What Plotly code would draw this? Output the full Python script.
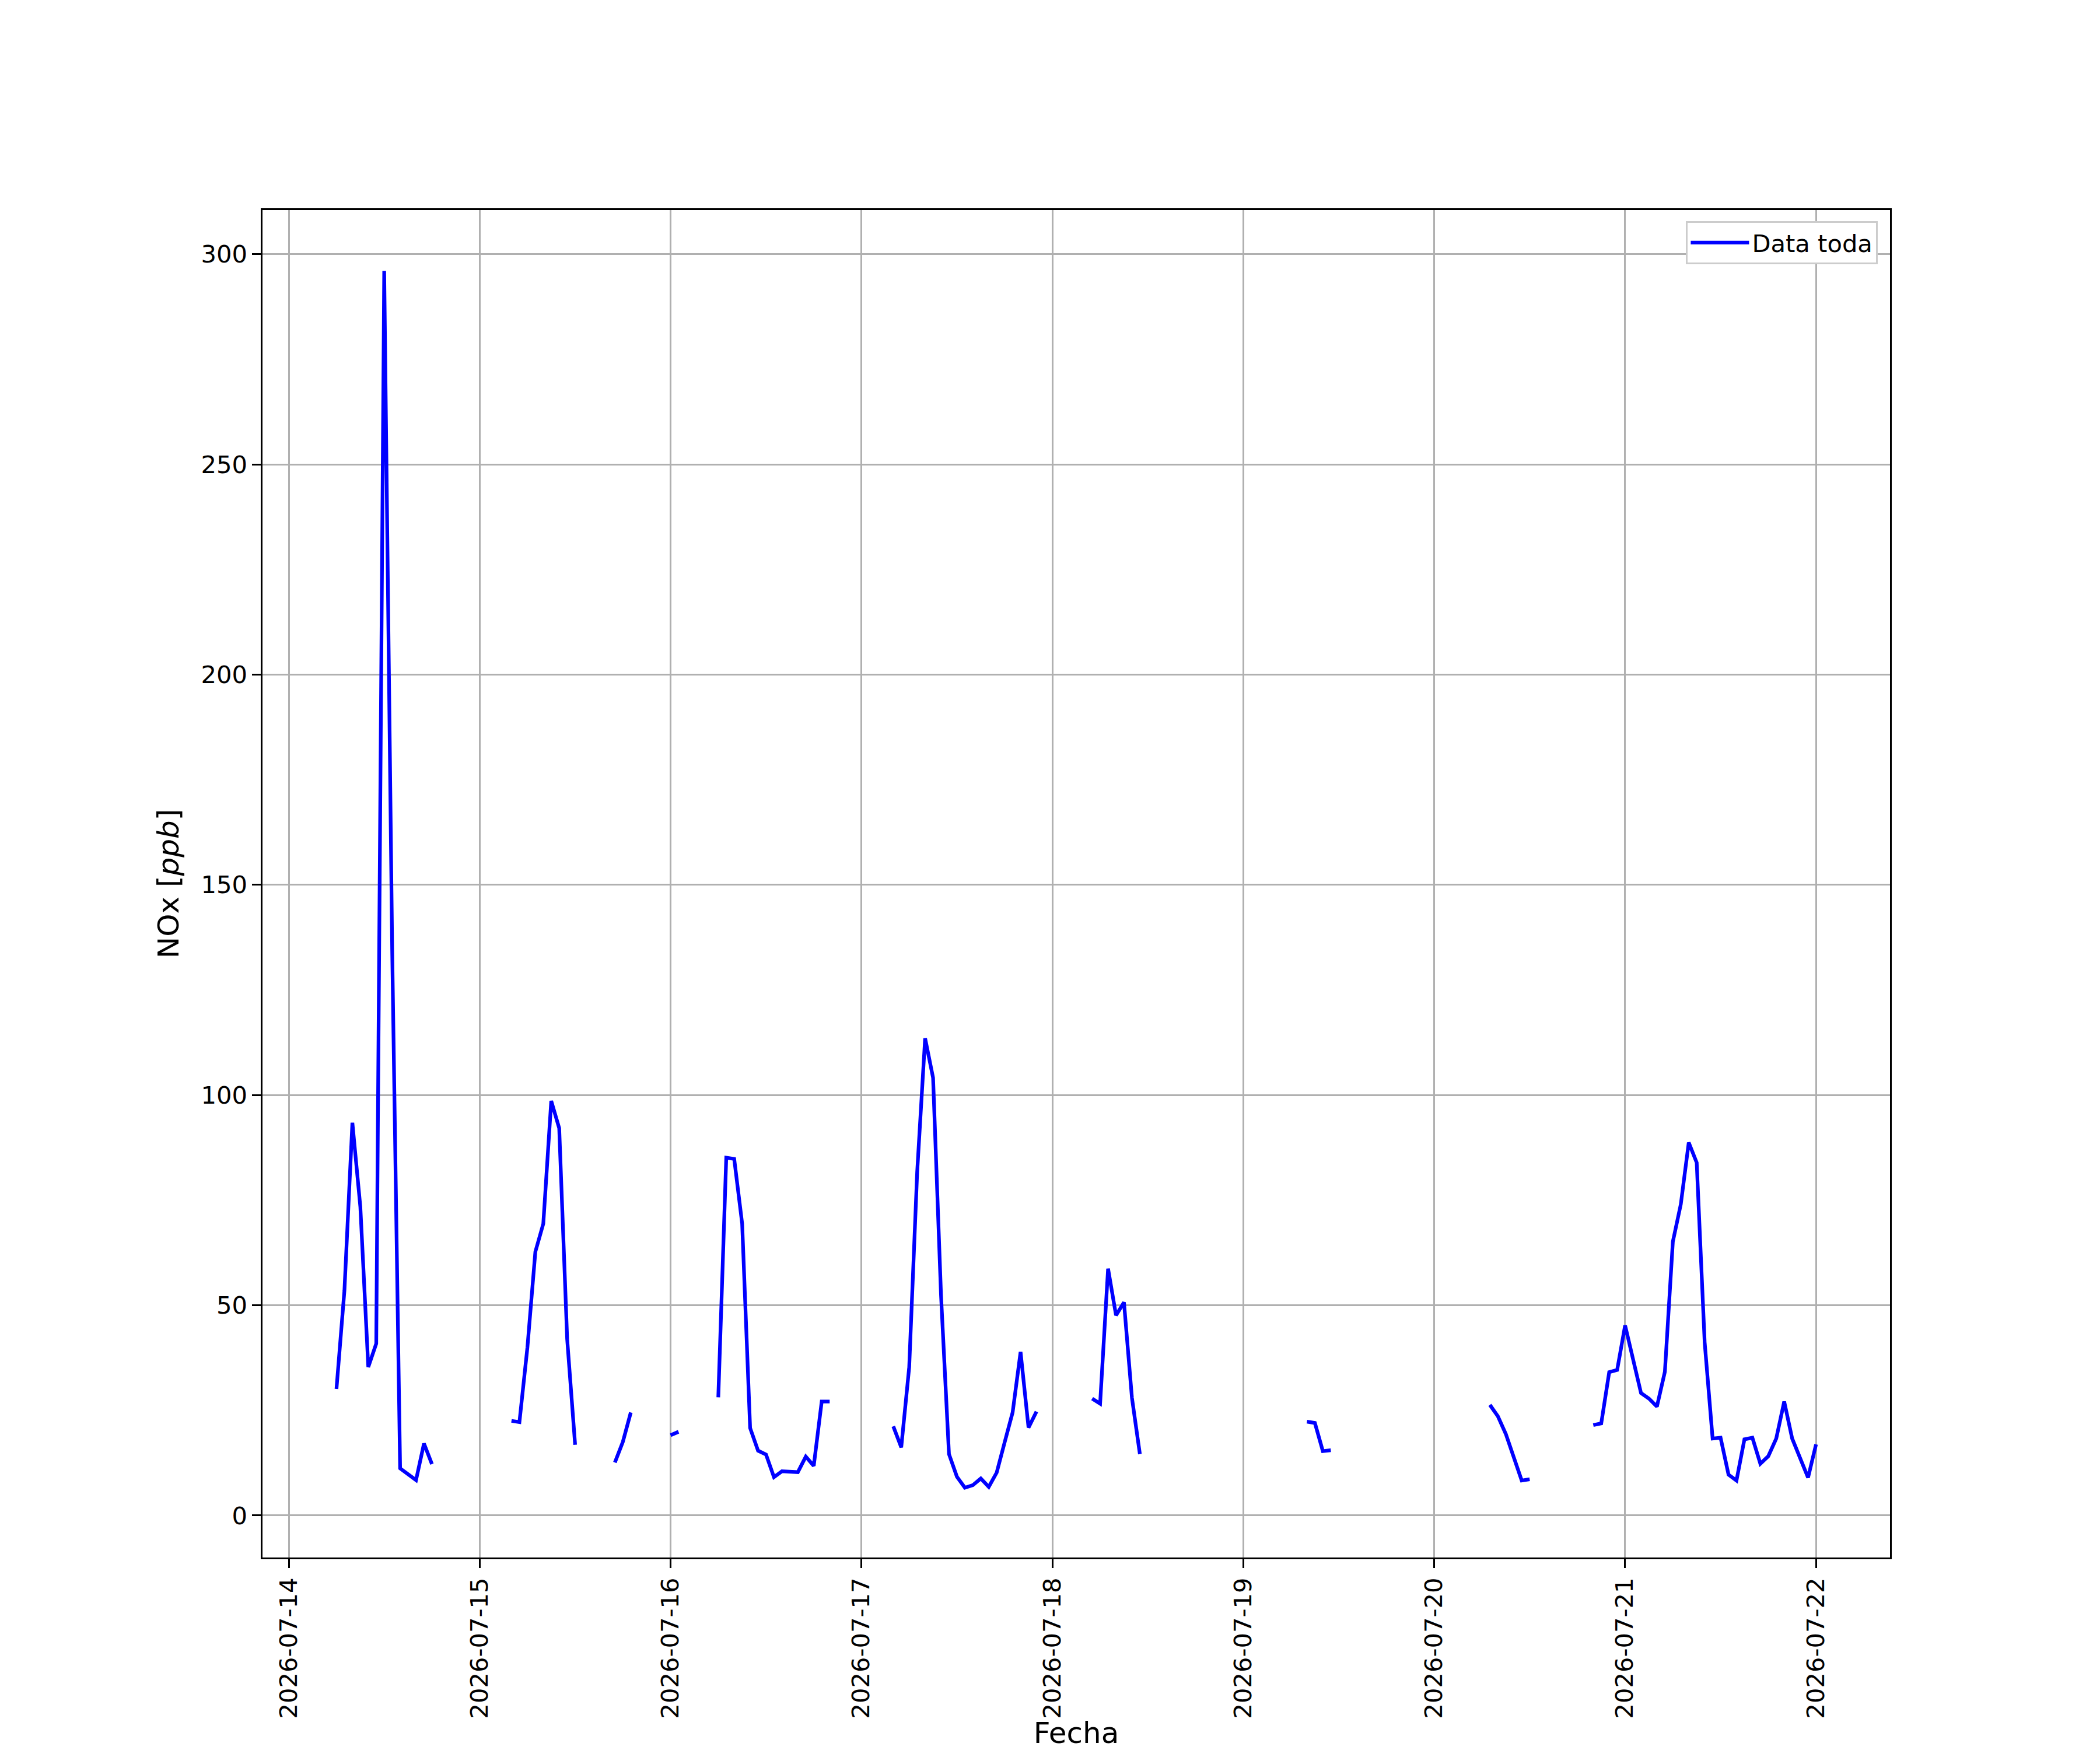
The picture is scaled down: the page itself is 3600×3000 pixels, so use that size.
import pandas as pd
import plotly.graph_objects as go

# Hourly NOx readings (ppb), one list of 24 hours per day; None = no data
nox_0714 = [None, None, None, None, None, None, 30.1, 53.5, 93.4, 73.4, 35.3, 40.9,
            296.0, 135.0, 11.2, 9.8, 8.4, 17.1, 12.2, None, None, None, None, None]
nox_0715 = [None, None, None, None, 22.5, 22.2, 39.9, 62.7, 69.4, 98.6, 92.1, 42.0,
            16.8, None, None, None, None, 12.6, 17.5, 24.5, None, None, None, None]
nox_0716 = [19.1, 19.9, None, None, None, None, 28.1, 85.1, 84.8, 69.4, 20.8, 15.4,
            14.5, 9.1, 10.5, 10.3, 10.3, 14.0, 11.8, 27.1, 27.1, None, None, None]
nox_0717 = [None, None, None, None, 21.2, 16.2, 35.3, 81.6, 113.5, 104.1, 52.4, 14.6,
            9.2, 6.6, 7.2, 8.8, 6.8, 10.2, 17.4, 24.5, 38.9, 20.9, 24.7, None]
nox_0718 = [None, None, None, None, None, 27.8, 26.6, 58.7, 47.6, 50.7, 28.0, 14.6,
            None, None, None, None, None, None, None, None, None, None, None, None]
nox_0719 = [None, None, None, None, None, None, None, None, 22.3, 22.0, 15.3, 15.5,
            None, None, None, None, None, None, None, None, None, None, None, None]
nox_0720 = [None, None, None, None, None, None, None, 26.3, 23.6, 19.4, 14.1, 8.3,
            8.6, None, None, None, None, None, None, None, 21.5, 21.9, 34.1, 34.6]
nox_0721 = [45.2, 37.5, 29.1, 27.8, 25.9, 34.2, 65.1, 74.0, 88.7, 83.9, 41.2, 18.3,
            18.5, 9.7, 8.3, 18.1, 18.5, 12.3, 14.1, 18.3, 27.1, 18.3, 13.7, 9.0]
nox_0722 = [16.9]

nox = nox_0714 + nox_0715 + nox_0716 + nox_0717 + nox_0718 + nox_0719 + nox_0720 + nox_0721 + nox_0722
fechas = pd.date_range("2026-07-14 00:00", periods=len(nox), freq="h")

tick_dias = pd.date_range("2026-07-14", "2026-07-22", freq="D")

PT = 300 / 72  # matplotlib points -> pixels at 300 dpi
FONT = "DejaVu Sans"

fig = go.Figure()
fig.add_trace(go.Scatter(
    x=fechas, y=nox, mode="lines", name="Data toda",
    line=dict(color="#0000ff", width=1.5 * PT),
    connectgaps=False,
))

axis_common = dict(
    showline=True, linecolor="black", linewidth=0.8 * PT, mirror=True,
    ticks="outside", ticklen=3.5 * PT, tickwidth=0.8 * PT, tickcolor="black",
    showgrid=True, gridcolor="#b0b0b0", gridwidth=0.8 * PT,
    zeroline=False,
    tickfont=dict(family=FONT, size=10 * PT, color="black"),
)

# page body has an 8px margin, so the figure is 8px smaller than the window
fig.update_layout(
    width=3592, height=2992,
    margin=dict(l=442, r=360, t=352, b=330, autoexpand=False),
    paper_bgcolor="white", plot_bgcolor="white",
    font=dict(family=FONT, color="black"),
    showlegend=True,
    legend=dict(
        x=0.9925, y=0.9918, xanchor="right", yanchor="top",
        bgcolor="white", bordercolor="#cccccc", borderwidth=0.8 * PT,
        font=dict(family=FONT, size=10 * PT),
        itemwidth=100,
    ),
    xaxis=dict(
        axis_common,
        type="date",
        range=["2026-07-13 20:42", "2026-07-22 09:18"],
        tickvals=tick_dias,
        ticktext=[d.strftime("%Y-%m-%d") for d in tick_dias],
        tickangle=-90,
        title=dict(text="Fecha", font=dict(family=FONT, size=12 * PT), standoff=2),
    ),
    yaxis=dict(
        axis_common,
        range=[-10, 310.5],
        tickvals=[0, 50, 100, 150, 200, 250, 300],
        title=dict(text="NOx [<i>ppb</i>]", font=dict(family=FONT, size=12 * PT), standoff=22),
    ),
)

fig.write_html("out.html")
